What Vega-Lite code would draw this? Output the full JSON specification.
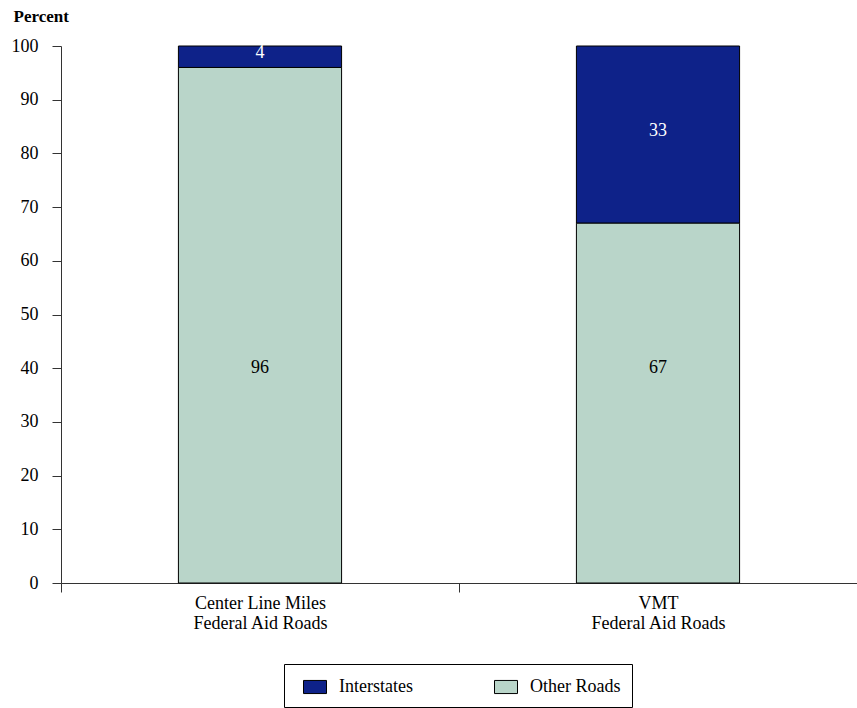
{
  "$schema": "https://vega.github.io/schema/vega-lite/v6.json",
  "autosize": {"type": "none"},
  "padding": {"left": 61, "top": 46, "right": 0, "bottom": 125},
  "width": 796,
  "height": 537,
  "background": "white",
  "config": {
    "view": {"stroke": null},
    "font": "Liberation Serif",
    "axis": {"labelFont": "Liberation Serif", "labelColor": "black", "domainColor": "#333", "tickColor": "#333", "grid": false}
  },
  "data": {
    "values": [
      {"category": "Center Line Miles|Federal Aid Roads", "type": "Interstates", "value": 4},
      {"category": "Center Line Miles|Federal Aid Roads", "type": "Other Roads", "value": 96},
      {"category": "VMT|Federal Aid  Roads", "type": "Interstates", "value": 33},
      {"category": "VMT|Federal Aid  Roads", "type": "Other Roads", "value": 67}
    ]
  },
  "encoding": {
    "x": {
      "field": "category",
      "type": "nominal",
      "sort": null,
      "scale": {"paddingInner": 0, "paddingOuter": 0},
      "axis": {
        "title": null,
        "labelAngle": 0,
        "tickBand": "extent",
        "tickSize": 9,
        "labelPadding": 2,
        "labelFontSize": 18,
        "labelLineHeight": 20,
        "labelExpr": "split(datum.label, '|')",
        "domainWidth": 1
      }
    }
  },
  "layer": [
    {
      "mark": {"type": "bar", "width": {"band": 0.41}, "stroke": "black", "strokeWidth": 1},
      "encoding": {
        "y": {
          "field": "value",
          "type": "quantitative",
          "stack": "zero",
          "scale": {"domain": [0, 100], "nice": false},
          "axis": {
            "title": "Percent",
            "titleAngle": 0,
            "titleAlign": "left",
            "titleBaseline": "alphabetic",
            "titleX": -48,
            "titleY": -25,
            "titleFontSize": 17,
            "titleFontWeight": "bold",
            "titleFont": "Liberation Serif",
            "titleColor": "black",
            "values": [0, 10, 20, 30, 40, 50, 60, 70, 80, 90, 100],
            "tickSize": 9,
            "labelPadding": 14,
            "labelFontSize": 18
          }
        },
        "color": {
          "field": "type",
          "type": "nominal",
          "scale": {"domain": ["Interstates", "Other Roads"], "range": ["#0E2289", "#B9D5C9"]},
          "legend": {
            "title": null,
            "orient": "none",
            "legendX": 223,
            "legendY": 618,
            "direction": "horizontal",
            "strokeColor": "black",
            "fillColor": "white",
            "padding": 11,
            "symbolOffset": 8,
            "columnPadding": 73,
            "labelOffset": 12,
            "labelFontSize": 18,
            "labelFont": "Liberation Serif",
            "labelColor": "black",
            "symbolType": "M-1,-0.57H1V0.57H-1Z",
            "symbolSize": 529,
            "symbolStrokeColor": "black",
            "symbolStrokeWidth": 1,
            "symbolOpacity": 1
          }
        },
        "order": {"field": "type", "sort": "descending"}
      }
    },
    {
      "transform": [
        {"filter": "datum.type === 'Interstates'"},
        {"calculate": "100 - datum.value / 2", "as": "mid"}
      ],
      "mark": {"type": "text", "color": "white", "fontSize": 18, "font": "Liberation Serif", "baseline": "middle", "dy": -4},
      "encoding": {
        "y": {"field": "mid", "type": "quantitative"},
        "text": {"field": "value", "type": "quantitative"}
      }
    },
    {
      "transform": [{"filter": "datum.type === 'Other Roads'"}],
      "mark": {"type": "text", "color": "black", "fontSize": 18, "font": "Liberation Serif", "baseline": "middle"},
      "encoding": {
        "y": {"datum": 40, "type": "quantitative"},
        "text": {"field": "value", "type": "quantitative"}
      }
    }
  ]
}
